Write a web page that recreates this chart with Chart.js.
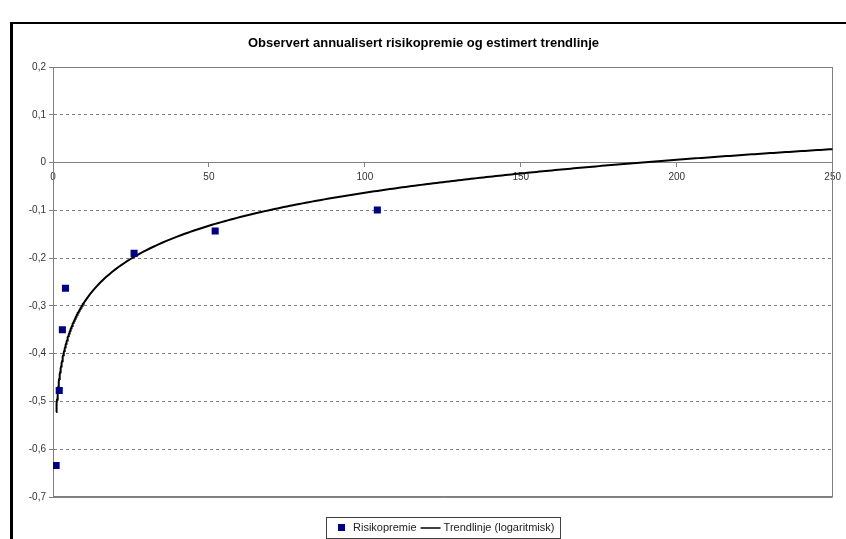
<!DOCTYPE html>
<html>
<head>
<meta charset="utf-8">
<script src="https://cdn.jsdelivr.net/npm/chart.js@4/dist/chart.umd.min.js"></script>
<style>
  html, body { margin: 0; padding: 0; background: #fff; }
  canvas { display: block; }
</style>
</head>
<body>
<canvas id="chart" width="846" height="539"></canvas>
<script>
// Observed holding horizons and annualised risk premium
const horizons = [1, 2, 3, 4, 26, 52, 104];
const riskPremium = [-0.634, -0.477, -0.350, -0.263, -0.190, -0.143, -0.099];

// Axis ticks
const xTicks = [0, 50, 100, 150, 200, 250];
const yTicks = [0.2, 0.1, 0, -0.1, -0.2, -0.3, -0.4, -0.5, -0.6, -0.7];

const titleText = 'Observert annualisert risikopremie og estimert trendlinje';
const seriesNames = ['Risikopremie', 'Trendlinje (logaritmisk)'];

// Logarithmic trend line y = a*ln(x) + b, least squares fit on the observations
function logFit(xs, ys) {
  const lx = xs.map(Math.log);
  const n = xs.length;
  const mx = lx.reduce((s, v) => s + v, 0) / n;
  const my = ys.reduce((s, v) => s + v, 0) / n;
  let sxy = 0, sxx = 0;
  for (let i = 0; i < n; i++) {
    sxy += (lx[i] - mx) * (ys[i] - my);
    sxx += (lx[i] - mx) * (lx[i] - mx);
  }
  const a = sxy / sxx;
  return { a, b: my - a * mx };
}
const fit = logFit(horizons, riskPremium);
const trendXs = [];
for (let x = horizons[0]; x < 10; x += 0.1) trendXs.push(x);
for (let x = 10; x <= xTicks[xTicks.length - 1]; x += 1) trendXs.push(x);
const trendPoints = trendXs.map(x => ({ x, y: fit.a * Math.log(x) + fit.b }));

const FONT = '"Liberation Sans", Arial, sans-serif';
const GRID_GREY = '#808080';

function fmtComma(v) {
  const r = Math.round(v * 10) / 10;
  return (r === 0 ? '0' : String(r)).replace('.', ',');
}

// White page with the black frame along the top and left
const pageFrame = {
  id: 'pageFrame',
  beforeDraw(chart) {
    const { ctx, width, height } = chart;
    ctx.save();
    ctx.fillStyle = '#fff';
    ctx.fillRect(0, 0, width, height);
    ctx.fillStyle = '#000';
    ctx.fillRect(10, 22, width - 10, 2);
    ctx.fillRect(10, 22, 3, height - 22);
    ctx.restore();
  }
};

// Grey border round the plot area
const plotFrame = {
  id: 'plotFrame',
  beforeDatasetsDraw(chart) {
    const { ctx, chartArea: a } = chart;
    ctx.save();
    ctx.strokeStyle = GRID_GREY;
    ctx.lineWidth = 1;
    ctx.strokeRect(Math.round(a.left) + 0.5, Math.round(a.top) + 0.5,
      Math.round(a.right - a.left) - 1, Math.round(a.bottom - a.top) - 1);
    ctx.restore();
  }
};

// Framed legend under the plot
const framedLegend = {
  id: 'framedLegend',
  afterDraw(chart) {
    const { ctx, chartArea: a } = chart;
    const ds = chart.data.datasets;
    ctx.save();
    ctx.font = '11px ' + FONT;
    const w1 = ctx.measureText(ds[0].label).width;
    const w2 = ctx.measureText(ds[1].label).width;
    const padL = 12, mark = 7, gapMark = 8, gapItems = 4, lineLen = 20, gapLine = 3, padR = 6;
    const total = padL + mark + gapMark + w1 + gapItems + lineLen + gapLine + w2 + padR;
    const left = Math.round((a.left + a.right) / 2 - total / 2);
    const top = 517, h = 21, cy = top + h / 2;
    ctx.strokeStyle = '#404040';
    ctx.lineWidth = 1;
    ctx.strokeRect(left + 0.5, top + 0.5, Math.round(total), h);
    let x = left + padL;
    ctx.fillStyle = ds[0].backgroundColor;
    ctx.fillRect(x, Math.round(cy - mark / 2), mark, mark);
    x += mark + gapMark;
    ctx.fillStyle = '#222';
    ctx.textBaseline = 'middle';
    ctx.textAlign = 'left';
    ctx.fillText(ds[0].label, x, cy + 0.5);
    x += w1 + gapItems;
    ctx.strokeStyle = ds[1].borderColor;
    ctx.lineWidth = 1.5;
    ctx.beginPath();
    ctx.moveTo(x, cy + 0.5);
    ctx.lineTo(x + lineLen, cy + 0.5);
    ctx.stroke();
    x += lineLen + gapLine;
    ctx.fillText(ds[1].label, x, cy + 0.5);
    ctx.restore();
  }
};

new Chart(document.getElementById('chart'), {
  type: 'scatter',
  data: {
    datasets: [
      {
        label: seriesNames[0],
        data: horizons.map((x, i) => ({ x, y: riskPremium[i] })),
        backgroundColor: '#000080',
        borderColor: '#000080',
        borderWidth: 0,
        pointStyle: 'rect',
        pointRadius: 5,
        pointHoverRadius: 5,
        order: 0
      },
      {
        label: seriesNames[1],
        data: trendPoints,
        showLine: true,
        borderColor: '#000',
        backgroundColor: '#000',
        borderWidth: 2,
        pointRadius: 0,
        pointHoverRadius: 0,
        tension: 0,
        order: 1
      }
    ]
  },
  options: {
    responsive: false,
    animation: false,
    devicePixelRatio: 1,
    layout: { padding: { left: 13, right: 12, top: 0, bottom: 42 } },
    plugins: {
      legend: { display: false },
      tooltip: { enabled: false },
      title: {
        display: true,
        text: titleText,
        color: '#000',
        font: { family: FONT, size: 13, weight: 'bold' },
        padding: { top: 36, bottom: 15.5 }
      }
    },
    scales: {
      x: {
        type: 'linear',
        min: xTicks[0],
        max: xTicks[xTicks.length - 1],
        position: { y: 0 },
        afterBuildTicks: s => { s.ticks = xTicks.map(v => ({ value: v })); },
        ticks: {
          color: '#333',
          font: { family: FONT, size: 10 },
          padding: 5,
          maxRotation: 0,
          autoSkip: false
        },
        grid: {
          drawOnChartArea: false,
          drawTicks: true,
          tickLength: 4,
          tickColor: GRID_GREY
        },
        border: { display: true, color: GRID_GREY, width: 1 }
      },
      y: {
        type: 'linear',
        min: yTicks[yTicks.length - 1],
        max: yTicks[0],
        position: 'left',
        afterBuildTicks: s => { s.ticks = yTicks.map(v => ({ value: v })); },
        afterFit: s => { s.width = 40; },
        ticks: {
          color: '#333',
          font: { family: FONT, size: 10 },
          padding: 3,
          autoSkip: false,
          callback: v => fmtComma(v)
        },
        grid: {
          color: GRID_GREY,
          lineWidth: 1,
          drawTicks: true,
          tickLength: 4,
          tickColor: GRID_GREY
        },
        border: {
          display: true,
          color: GRID_GREY,
          width: 1,
          dash: ctx => {
            const v = ctx.tick ? Math.round(ctx.tick.value * 10) : 1;
            return (v === 0 || v === 2 || v === -7) ? [] : [3, 3];
          }
        }
      }
    }
  },
  plugins: [pageFrame, plotFrame, framedLegend]
});
</script>
</body>
</html>
